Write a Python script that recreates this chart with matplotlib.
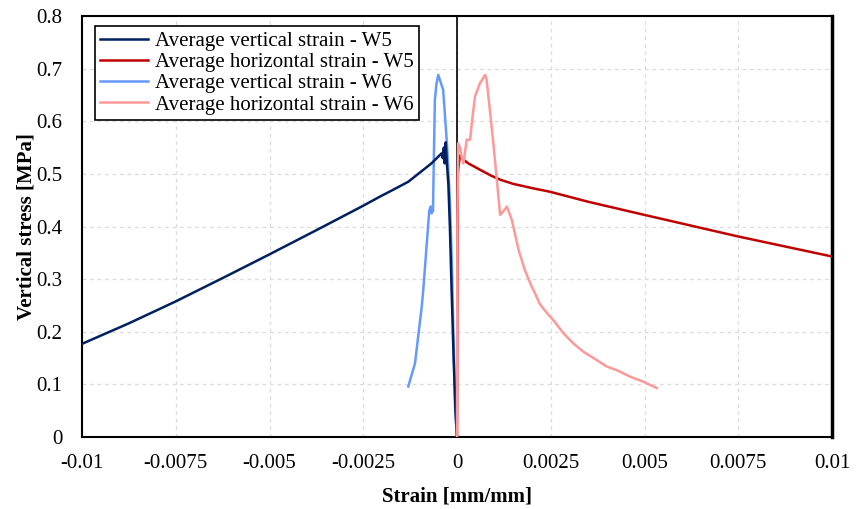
import numpy as np
import matplotlib
matplotlib.use('Agg')
import matplotlib.pyplot as plt

# strain [mm/mm] and vertical stress [MPa]
w5_vert_strain = [0.0, -0.00004, -0.00009, -0.00014, -0.00019, -0.00023, -0.00027, -0.00030, -0.00033,
                  -0.00035, -0.00038, -0.00041, -0.00068, -0.0013, -0.00175, -0.00205, -0.00254,
                  -0.00375, -0.00503, -0.00625, -0.00752, -0.00875, -0.0100]
w5_vert_stress = [0.0, 0.05, 0.15, 0.27, 0.40, 0.48, 0.52, 0.56, 0.52,
                  0.55, 0.53, 0.539, 0.52, 0.485, 0.468, 0.457, 0.438,
                  0.393, 0.346, 0.302, 0.257, 0.216, 0.177]

w5_hor_strain = [0.0, 0.00001, 0.00002, 0.00005, 0.00008, 0.00012, 0.0003, 0.00061, 0.0009, 0.00115,
                 0.0015, 0.0020, 0.00248, 0.0035, 0.00488, 0.0075, 0.0100]
w5_hor_stress = [0.0, 0.30, 0.50, 0.52, 0.535, 0.53, 0.52, 0.508, 0.497, 0.489,
                 0.481, 0.473, 0.466, 0.447, 0.424, 0.381, 0.343]

w6_vert_strain = [0.0, -0.00005, -0.00008, -0.00014, -0.00019, -0.00027, -0.00037, -0.00044, -0.00050,
                  -0.00055, -0.00059, -0.00062, -0.00064, -0.00068, -0.00070, -0.00074, -0.00090,
                  -0.00094, -0.00112, -0.00130]
w6_vert_stress = [0.0, 0.05, 0.146, 0.337, 0.45, 0.56, 0.66, 0.675, 0.688,
                  0.67, 0.64, 0.52, 0.43, 0.425, 0.438, 0.43, 0.279,
                  0.248, 0.14, 0.096]

w6_hor_strain = [0.0, 0.00001, 0.00003, 0.00008, 0.00013, 0.00017, 0.00022, 0.00026, 0.00035, 0.00040,
                 0.00048, 0.00061, 0.00075, 0.00079, 0.00097, 0.00115, 0.00125, 0.00133, 0.00146,
                 0.00164, 0.00181, 0.00199, 0.00208, 0.00220, 0.00226, 0.00244, 0.00257, 0.00284,
                 0.00310, 0.00337, 0.00364, 0.00399, 0.00426, 0.00461, 0.00497, 0.00533]
w6_hor_stress = [0.0, 0.40, 0.558, 0.55, 0.53, 0.52, 0.545, 0.565, 0.565, 0.60,
                 0.647, 0.672, 0.688, 0.679, 0.558, 0.422, 0.43, 0.438, 0.413,
                 0.356, 0.317, 0.286, 0.273, 0.254, 0.248, 0.232, 0.222, 0.197,
                 0.178, 0.162, 0.15, 0.134, 0.127, 0.115, 0.105, 0.093]

x_ticks = [-0.01, -0.0075, -0.005, -0.0025, 0, 0.0025, 0.005, 0.0075, 0.01]
x_tick_labels = ['-0.01', '-0.0075', '-0.005', '-0.0025', '0', '0.0025', '0.005', '0.0075', '0.01']
y_ticks = [0, 0.1, 0.2, 0.3, 0.4, 0.5, 0.6, 0.7, 0.8]
y_tick_labels = ['0', '0.1', '0.2', '0.3', '0.4', '0.5', '0.6', '0.7', '0.8']

plt.rcParams['font.family'] = ['Liberation Serif', 'DejaVu Serif']
plt.rcParams['font.size'] = 15

fig = plt.figure(figsize=(8.59, 5.09), dpi=100)
ax = fig.add_axes([82 / 859, 1 - 437 / 509, 750 / 859, 421 / 509])

ax.axvline(0, color='black', lw=1.2, zorder=1)
ax.plot(w6_vert_strain, w6_vert_stress, color='#6699FF', lw=1.8, zorder=2, label='Average vertical strain - W6')
ax.plot(w5_vert_strain, w5_vert_stress, color='#002060', lw=1.8, zorder=3, label='Average vertical strain - W5')
ax.plot(w5_hor_strain, w5_hor_stress, color='#C00000', lw=1.8, zorder=3, label='Average horizontal strain - W5')
ax.plot(w6_hor_strain, w6_hor_stress, color='#FF9999', lw=1.8, zorder=4, label='Average horizontal strain - W6')

ax.set_xlim(-0.01, 0.01)
ax.set_ylim(0, 0.8)
ax.set_xticks(x_ticks)
ax.set_xticklabels(x_tick_labels)
ax.set_yticks(y_ticks)
ax.set_yticklabels(y_tick_labels)
ax.tick_params(axis='both', length=0, labelsize=15)
ax.tick_params(axis='x', pad=12)
ax.tick_params(axis='y', pad=14)
ax.grid(True, color='#dcdcdc', linestyle=(0, (3, 3)), lw=0.9)
ax.set_axisbelow(True)
for s in ax.spines.values():
    s.set_color('black')
    s.set_linewidth(1.5)
ax.spines['right'].set_linewidth(2.5)

ax.set_xlabel('Strain [mm/mm]', fontweight='bold', fontsize=15, labelpad=10)
ax.set_ylabel('Vertical stress [MPa]', fontweight='bold', fontsize=15, labelpad=0)

handles, labels = ax.get_legend_handles_labels()
order = [1, 2, 0, 3]
leg = ax.legend([handles[i] for i in order], [labels[i] for i in order],
                loc='upper left', bbox_to_anchor=(0.017, 0.976), borderaxespad=0,
                fancybox=False, edgecolor='black', framealpha=1, fontsize=15,
                handlelength=2.3, handletextpad=0.35, labelspacing=0.08,
                borderpad=0.25)
leg.get_frame().set_linewidth(1.2)

fig.savefig('out.png', dpi=100)
